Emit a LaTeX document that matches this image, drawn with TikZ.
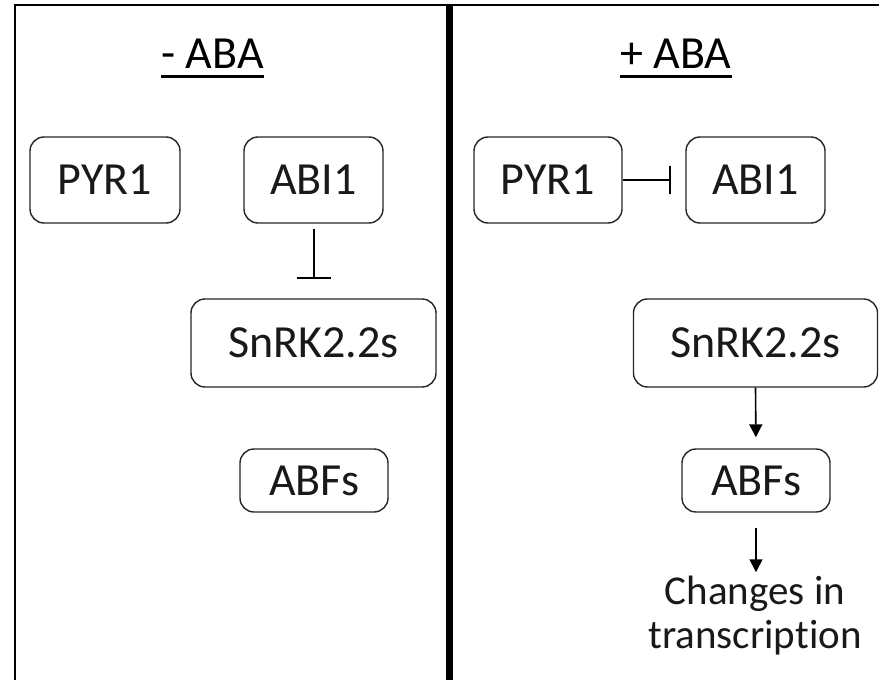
\documentclass[tikz,border=0pt]{standalone}
\usepackage{fontspec}
\setmainfont[Ligatures={NoCommon,NoRequired,NoContextual,NoRare}]{Carlito}
\usetikzlibrary{arrows.meta}
\begin{document}
\begin{tikzpicture}[x=1pt,y=-1pt,
  box/.style={draw=black!85,line width=1.4pt,rounded corners=14pt,inner sep=0pt,
    font=\fontsize{46}{54}\selectfont,text=black!90},
  ttl/.style={inner sep=0pt,font=\fontsize{46}{54}\selectfont,anchor=base},
  inh/.style={line width=2pt,-{Bar[width=#1,line width=2pt]}},
  act/.style={line width=1.6pt,-{Triangle[width=13pt,length=13pt]}}
]
\useasboundingbox (0,0) rectangle (879,680);
\fill[white] (0,0) rectangle (879,680);
% frame
\draw[line width=2.2pt] (15,680) -- (15,5) -- (879,5);
\draw[line width=7pt] (449.5,5) -- (449.5,680);
% titles
\node[ttl] (tl) at (212.5,68) {- ABA};
\node[ttl] (tr) at (676,68) {+ ABA};
\draw[line width=3pt] ([yshift=-8pt]tl.base west) -- ([yshift=-8pt]tl.base east);
\draw[line width=3pt] ([yshift=-8pt]tr.base west) -- ([yshift=-8pt]tr.base east);
% left panel
\node[box,minimum width=150pt,minimum height=86pt] (pyrL) at (105,180) {PYR1};
\node[box,minimum width=139pt,minimum height=86pt] (abiL) at (313.5,180) {ABI1};
\node[box,minimum width=245pt,minimum height=88pt] (snL) at (313.5,343) {SnRK2.2s};
\node[box,minimum width=148pt,minimum height=63pt] (abfL) at (314,480.5) {ABFs};
\draw[inh=34pt,shorten <=5pt,shorten >=19pt] (abiL.south) -- (snL.north);
% right panel
\node[box,minimum width=148pt,minimum height=86pt] (pyrR) at (548,180) {PYR1};
\node[box,minimum width=139pt,minimum height=86pt] (abiR) at (755.5,180) {ABI1};
\node[box,minimum width=244pt,minimum height=88pt] (snR) at (755.5,343) {SnRK2.2s};
\node[box,minimum width=148pt,minimum height=63pt] (abfR) at (756,480.5) {ABFs};
\node[inner sep=0pt,align=center,font=\fontsize{41}{44}\selectfont,text=black!90] (chg) at (755,616) {Changes in\\transcription};
\draw[inh=28pt,shorten >=14pt] (pyrR.east) -- (abiR.west);
\draw[act,shorten >=11pt] (snR.south) -- (abfR.north);
\draw[act,shorten <=15pt,shorten >=4pt] (abfR.south) -- (abfR.south |- chg.north);
\end{tikzpicture}
\end{document}
